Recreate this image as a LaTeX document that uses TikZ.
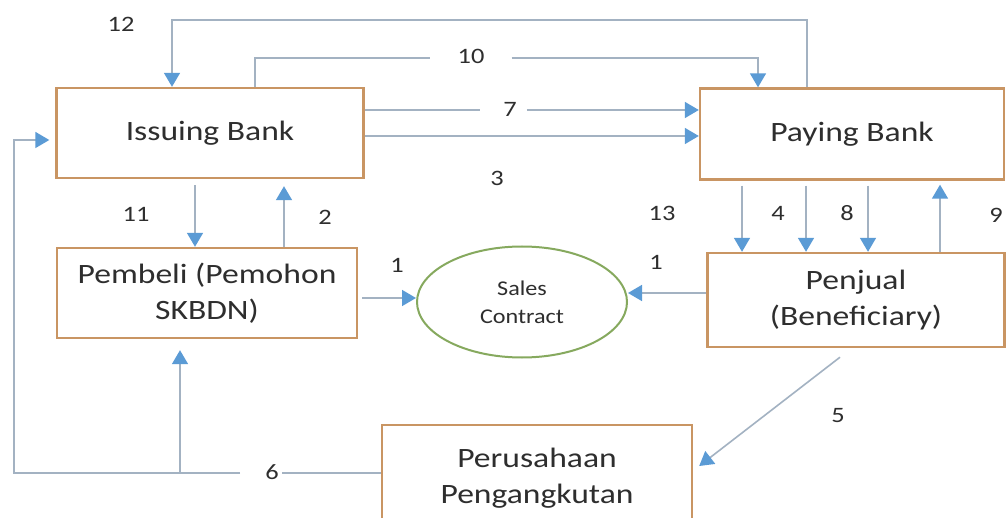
\documentclass[tikz,border=0pt]{standalone}
\usepackage{fontspec}
\usetikzlibrary{arrows.meta, shapes.geometric, calc}

\newfontfamily\boxfont[FakeStretch=1.2]{Carlito}
\newfontfamily\numfont[FakeStretch=1.2]{Carlito}
\newfontfamily\ovalfont[FakeStretch=1.15]{Carlito}

\definecolor{boxline}{HTML}{C99563}
\definecolor{linegrey}{HTML}{A3B2C2}
\definecolor{tipblue}{HTML}{5B9BD5}
\definecolor{ovalgreen}{HTML}{86A95E}
\definecolor{txt}{HTML}{2E2E2E}

\tikzset{
    party/.style={draw=boxline, line width=2.4pt, fill=white, align=center, inner sep=0pt,
        text=txt, font=\boxfont\fontsize{28pt}{36pt}\selectfont},
    flow/.style={draw=linegrey, line width=1.6pt, -{Triangle[length=14pt, width=16pt, color=tipblue]}},
    link/.style={draw=linegrey, line width=1.6pt},
    num/.style={inner sep=0pt, text=txt, font=\numfont\fontsize{22pt}{26pt}\selectfont}
}

\begin{document}
\begin{tikzpicture}[x=1pt, y=-1pt]
    \clip (0,0) rectangle (1006,518);
    \fill[white] (0,0) rectangle (1006,518);

    % Define the parties of the letter of credit
    \node[party, minimum width=307, minimum height=90] (ib) at (210,133) {Issuing Bank};
    \node[party, minimum width=304, minimum height=91] (pb) at (852,134) {Paying Bank};
    \node[party, minimum width=300, minimum height=90] (pem) at (207,293) {Pembeli (Pemohon\\SKBDN)};
    \node[party, minimum width=297, minimum height=94] (pj) at (856,300) {Penjual\\(Beneficiary)};
    \node[party, minimum width=310, minimum height=106] (pp) at (537,478) {Perusahaan\\Pengangkutan};
    \node[ellipse, draw=ovalgreen, line width=2pt, minimum width=210, minimum height=111, align=center,
        inner sep=0pt, text=txt, font=\ovalfont\fontsize{21pt}{28pt}\selectfont] (sc) at (522,302) {Sales\\Contract};

    % Step numbers
    \node[num] (n12) at (121,24) {12};
    \node[num] (n10) at (471,56) {10};
    \node[num] (n7) at (510,109) {7};
    \node[num] (n3) at (497,178) {3};
    \node[num] (n11) at (136,214) {11};
    \node[num] (n2) at (325,217) {2};
    \node[num] (n13) at (662,213) {13};
    \node[num] (n4) at (778,213) {4};
    \node[num] (n8) at (847,213) {8};
    \node[num] (n9) at (996,215) {9};
    \node[num] (n1a) at (397,265) {1};
    \node[num] (n1b) at (656,262) {1};
    \node[num] (n5) at (838,416) {5};
    \node[num] (n6) at (272,472) {6};

    % Corners of the long connectors
    \coordinate (c12) at (807,20);
    \coordinate (c6) at (14,140);
    \coordinate (j6) at (180,473);

    % Between the banks
    \draw[flow] (pb.north -| c12) -- (c12) -| (ib.north -| 172,0);
    \draw[link] (ib.north -| 255,0) |- ([xshift=-27]n10.west |- 0,58);
    \draw[flow] ([xshift=27]n10.east |- 0,58) -| (pb.north -| 758,0);
    \draw[link] (ib.east |- 0,110) -- ([xshift=-23]n7.west |- 0,110);
    \draw[flow] ([xshift=10]n7.east |- 0,110) -- (pb.west |- 0,110);
    \draw[flow] (ib.east |- 0,136) -- (pb.west |- 0,136);

    % Buyer and issuing bank
    \draw[flow] ($(ib.south -| 195,0)+(0,6)$) -- (pem.north -| 195,0);
    \draw[flow] (pem.north -| 284,0) -- ($(ib.south -| 284,0)+(0,7)$);

    % Seller and paying bank
    \draw[flow] ($(pb.south -| 742,0)+(0,5)$) -- (pj.north -| 742,0);
    \draw[flow] ($(pb.south -| 806,0)+(0,5)$) -- (pj.north -| 806,0);
    \draw[flow] ($(pb.south -| 868,0)+(0,5)$) -- (pj.north -| 868,0);
    \draw[flow] (pj.north -| 940,0) -- ($(pb.south -| 940,0)+(0,4)$);

    % Sales contract
    \draw[flow] ($(pem.east)+(4,5)$) -- (sc.west |- 0,298);
    \draw[flow] ($(pj.west)+(0,-7)$) -- (sc.east |- 0,293);

    % Shipping
    \draw[flow] ($(pj.south)+(-16,9)$) -- ($(pp.east)+(6,-12)$);
    \draw[link] (pp.west |- j6) -- ([xshift=3]n6.east |- j6);
    \draw[flow] ([xshift=-25]n6.west |- j6) -| (c6) -- ($(ib.west |- c6)+(-6,0)$);
    \draw[flow] (j6) -- ($(pem.south -| j6)+(0,11)$);
\end{tikzpicture}
\end{document}
